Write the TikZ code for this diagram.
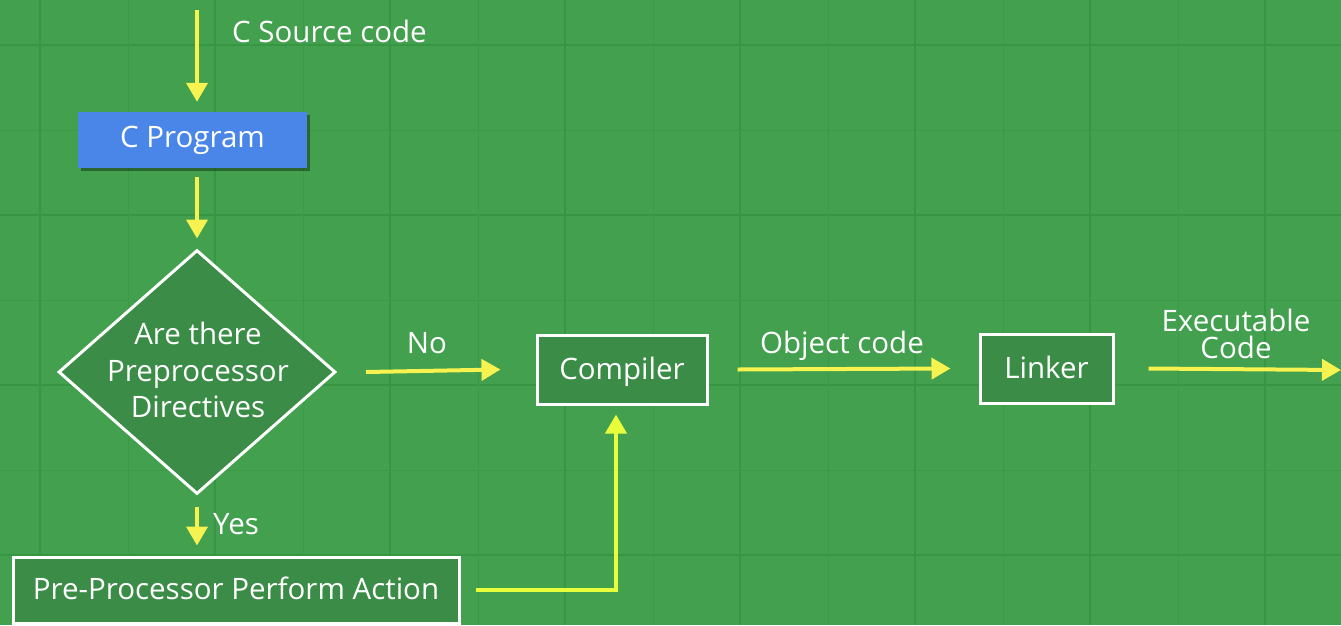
\documentclass[tikz,border=0pt]{standalone}
\usepackage{fontspec}
\setmainfont{Open Sans}
\usetikzlibrary{arrows.meta,shapes.geometric}
\definecolor{bggreen}{RGB}{66,160,78}
\definecolor{gridgreen}{RGB}{54,150,67}
\definecolor{boxgreen}{RGB}{58,140,70}
\definecolor{cblue}{RGB}{74,134,232}
\definecolor{arrowyellow}{RGB}{246,242,80}
\definecolor{limeyellow}{RGB}{232,255,60}
\tikzset{
  flow/.style={draw=arrowyellow, line width=4pt, -{Triangle[length=19pt,width=21pt]}},
  lbl/.style={text=white, font=\fontsize{29.5}{32}\selectfont, inner sep=0pt},
  wbox/.style={draw=white, line width=3pt, fill=boxgreen, text=white, font=\fontsize{29.5}{32}\selectfont, inner sep=0pt, text depth=0.3em},
}
\begin{document}
\begin{tikzpicture}[x=1pt,y=-1pt]
\useasboundingbox (0,0) rectangle (1341,625);
\fill[bggreen] (0,0) rectangle (1341,625);
% faint background grid
\foreach \gx in {40,215,390,565,740,915,1090,1265} {\draw[gridgreen, line width=1.2pt] (\gx,0) -- (\gx,625);}
\foreach \gy in {45,215,385,555} {\draw[gridgreen, line width=1.2pt] (0,\gy) -- (1341,\gy);}
\foreach \gx in {128,303,478,653,828,1003,1178} {\draw[gridgreen!60!bggreen, line width=0.8pt] (\gx,0) -- (\gx,625);}
\foreach \gy in {130,300,470} {\draw[gridgreen!60!bggreen, line width=0.8pt] (0,\gy) -- (1341,\gy);}

% nodes
\coordinate (srcstart) at (197,10);
\node[lbl, anchor=west] (srclbl) at (232,31) {C Source code};
\fill[black!55!boxgreen, opacity=0.6] (81,115) rectangle (310,171);
\node[fill=cblue, minimum width=229pt, minimum height=56pt, inner sep=0pt, text=white, font=\fontsize{29.5}{32}\selectfont] (cprog) at (192.5,140) {C Program};
\node[draw=white, line width=3pt, fill=boxgreen, diamond, minimum width=277pt, minimum height=244pt, inner sep=0pt, aspect=1.135] (dec) at (197,372) {};
\node[lbl, align=center, font=\fontsize{29.5}{36.5}\selectfont] (dectext) at (198,370) {Are there\\Preprocessor\\Directives};
\node[wbox, minimum width=170pt, minimum height=69pt] (comp) at (622,369.5) {Compiler};
\node[wbox, minimum width=133pt, minimum height=69pt] (link) at (1046.5,368.5) {Linker};
\node[wbox, minimum width=446pt, minimum height=66pt] (pre) at (236,590) {Pre-Processor Perform Action};
\coordinate (exeend) at (1341,370);

% labels
\node[lbl, anchor=base] (nolbl) at (427,353) {No};
\node[lbl, anchor=base] (objlbl) at (842,353) {Object code};
\node[lbl, anchor=base, align=center, font=\fontsize{29.5}{27}\selectfont] (exelbl) at (1236,358) {Executable\\Code};
\node[lbl, anchor=base west] (yeslbl) at (213,534) {Yes};

% connectors
\draw[flow] (srcstart) -- ([yshift=10pt]cprog.north -| srcstart);
\draw[flow] ([yshift=-9pt]cprog.south -| srcstart) -- ([yshift=10pt]dec.north);
\draw[flow] ([xshift=29pt]dec.east) -- ([xshift=-35pt]comp.west);
\draw[flow] ([xshift=29pt]comp.east) -- ([xshift=-28pt]link.west);
\draw[flow] ([xshift=34pt]link.east) -- (exeend);
\draw[flow] ([yshift=-11pt]dec.south) -- ([yshift=10pt]dec.south |- pre.north);
\draw[flow, draw=limeyellow] ([xshift=15pt]pre.east) -| ([yshift=-9pt,xshift=-6pt]comp.south);
\end{tikzpicture}
\end{document}
